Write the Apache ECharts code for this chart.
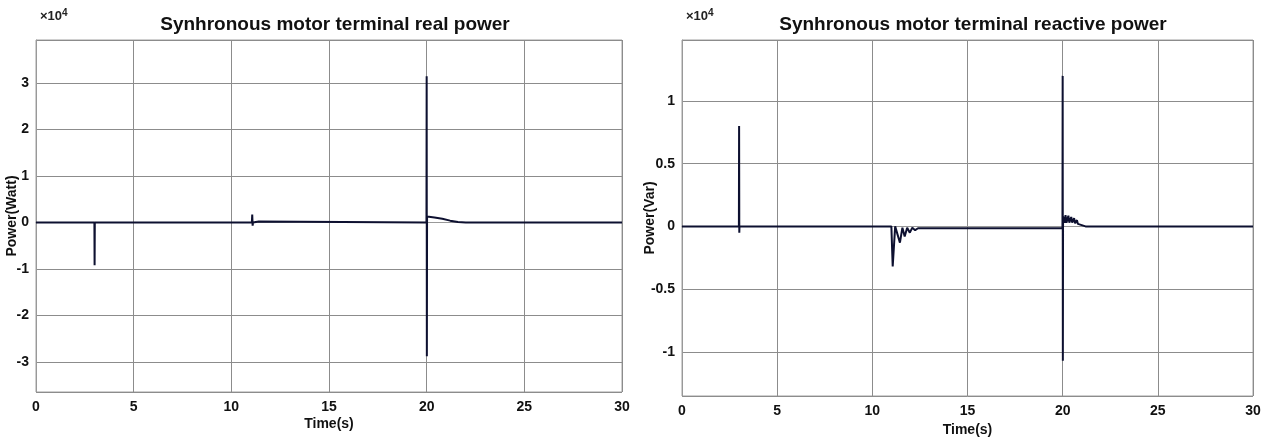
<!DOCTYPE html>
<html>
<head>
<meta charset="utf-8">
<script src="https://cdn.jsdelivr.net/npm/echarts@6/dist/echarts.min.js"></script>
<style>
  html, body { margin: 0; padding: 0; background: #fff; }
  #chart { width: 1270px; height: 443px; }
</style>
</head>
<body>
<div id="chart"></div>
<script>
// values in units of 1e4, [time(s), power]
const realPower = [
  [0, 0], [2.99, 0], [3.0, -0.92], [3.01, 0],
  [11.05, 0], [11.07, 0.17], [11.09, -0.07], [11.11, 0],
  [11.4, 0.02], [11.42, -0.02], [11.45, 0],
  [19.99, 0], [20.0, 3.15], [20.01, -2.88], [20.02, 0.13],
  [20.4, 0.11], [20.8, 0.08], [21.2, 0.04], [21.6, 0.01], [22, 0], [30, 0],
]

const reactivePower = [
  [0, 0], [2.99, 0], [3.0, 0.8], [3.01, -0.05], [3.02, 0],
  [11.0, 0], [11.07, -0.32], [11.2, 0], [11.45, -0.13], [11.58, -0.01],
  [11.7, -0.08], [11.83, -0.01], [11.97, -0.05], [12.1, -0.01],
  [12.25, -0.03], [12.4, -0.015], [19.99, -0.015],
  [20.0, 1.2], [20.01, -1.07], [20.02, 0.08],
  [20.05, 0.09], [20.1, 0.03], [20.15, 0.09], [20.2, 0.03], [20.3, 0.085],
  [20.35, 0.03], [20.45, 0.075], [20.5, 0.03], [20.6, 0.065], [20.65, 0.025],
  [20.75, 0.05], [20.8, 0.02], [20.9, 0.035], [21.0, 0.01], [21.2, 0], [30, 0],
]

const titles = ['Synhronous motor terminal real power', 'Synhronous motor terminal reactive power']
const yNames = ['Power(Watt)', 'Power(Var)']
const xName = 'Time(s)'

const font = "'Liberation Sans', Arial, sans-serif"
const gridColor = '#8c8c8c'
const lineColor = '#0d1030'

function xAxisFor(gridIndex) {
  return {
    type: 'value', gridIndex,
    min: 0, max: 30, interval: 5,
    name: xName, nameLocation: 'middle', nameGap: gridIndex === 0 ? 25 : 27,
    nameMoveOverlap: false,
    nameTextStyle: { fontFamily: font, fontWeight: 'bold', fontSize: 14, color: '#111' },
    axisLine: { lineStyle: { color: '#999' } },
    axisTick: { show: false },
    axisLabel: { color: '#111', fontFamily: font, fontWeight: 'bold', fontSize: 14, margin: 8 },
    splitLine: { lineStyle: { color: gridColor, width: 1 } },
  }
}

function yAxisFor(gridIndex, min, max, splitNumber) {
  return {
    type: 'value', gridIndex,
    min, max, splitNumber,
    name: yNames[gridIndex], nameLocation: 'middle', nameGap: gridIndex === 0 ? 17 : 25,
    nameMoveOverlap: false,
    nameTextStyle: { fontFamily: font, fontWeight: 'bold', fontSize: 14, color: '#111' },
    axisLine: { show: true, lineStyle: { color: '#999' } },
    axisTick: { show: false },
    axisLabel: {
      color: '#111', fontFamily: font, fontWeight: 'bold', fontSize: 14, margin: 7,
      showMinLabel: false, showMaxLabel: false,
    },
    splitLine: { lineStyle: { color: gridColor, width: 1 } },
  }
}

const chart = echarts.init(document.getElementById('chart'), null, { renderer: 'canvas' })
chart.setOption({
  backgroundColor: '#fff',
  animation: false,
  title: [
    { text: titles[0], left: 330, top: 10, textAlign: 'center',
      textStyle: { fontFamily: font, fontWeight: 'bold', fontSize: 19, color: '#111' } },
    { text: titles[1], left: 968, top: 10, textAlign: 'center',
      textStyle: { fontFamily: font, fontWeight: 'bold', fontSize: 19, color: '#111' } },
    { text: '×10{s|4}', left: 35, top: 3,
      textStyle: { fontFamily: font, fontSize: 13, color: '#222', rich: { s: { fontSize: 10, verticalAlign: 'top', padding: [0, 0, 6, 0] } } } },
    { text: '×10{s|4}', left: 681, top: 3,
      textStyle: { fontFamily: font, fontSize: 13, color: '#222', rich: { s: { fontSize: 10, verticalAlign: 'top', padding: [0, 0, 6, 0] } } } },
  ],
  grid: [
    { left: 36, right: 648, top: 40, bottom: 51, show: true, borderColor: '#a0a0a0', borderWidth: 1,
      outerBoundsMode: 'none', containLabel: false },
    { left: 682, right: 17, top: 40, bottom: 47, show: true, borderColor: '#a0a0a0', borderWidth: 1,
      outerBoundsMode: 'none', containLabel: false },
  ],
  xAxis: [xAxisFor(0), xAxisFor(1)],
  yAxis: [yAxisFor(0, -3.65, 3.93, 7), yAxisFor(1, -1.352, 1.486, 5)],
  series: [
    { type: 'line', xAxisIndex: 0, yAxisIndex: 0, data: realPower, showSymbol: false,
      lineStyle: { color: lineColor, width: 2 } },
    { type: 'line', xAxisIndex: 1, yAxisIndex: 1, data: reactivePower, showSymbol: false,
      lineStyle: { color: lineColor, width: 2 } },
  ],
})
</script>
</body>
</html>
